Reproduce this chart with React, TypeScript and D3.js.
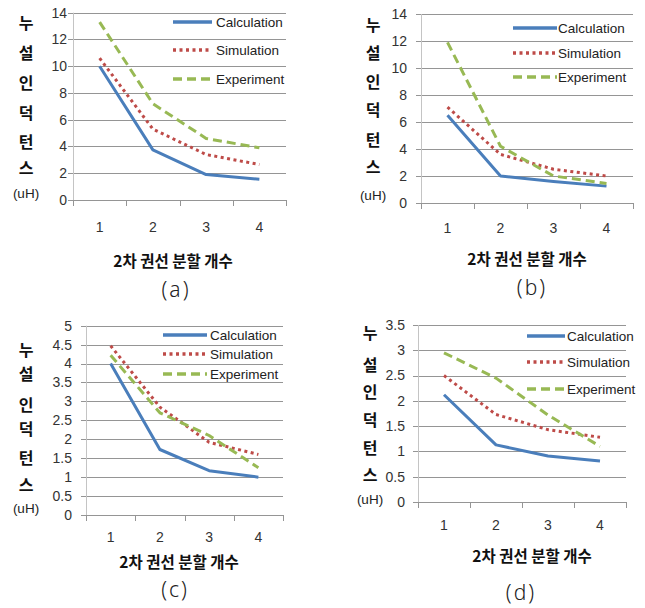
import React, { useEffect, useRef } from "react";
import * as d3 from "d3";

// 2차 권선 분할 개수
const categories = [1, 2, 3, 4];
const seriesNames = ["Calculation", "Simulation", "Experiment"];

// (a)
const aCalc = [10, 3.75, 1.9, 1.55];
const aSim = [10.6, 5.3, 3.4, 2.65];
const aExp = [13.3, 7.2, 4.6, 3.9];
const aTicks = [0, 2, 4, 6, 8, 10, 12, 14];

// (b)
const bCalc = [6.5, 2.0, 1.6, 1.25];
const bSim = [7.1, 3.6, 2.5, 2.0];
const bExp = [11.9, 4.2, 2.0, 1.45];
const bTicks = [0, 2, 4, 6, 8, 10, 12, 14];

// (c)
const cCalc = [4.0, 1.73, 1.17, 1.0];
const cSim = [4.47, 2.85, 1.92, 1.6];
const cExp = [4.22, 2.7, 2.1, 1.25];
const cTicks = [0, 0.5, 1, 1.5, 2, 2.5, 3, 3.5, 4, 4.5, 5];

// (d)
const dCalc = [2.12, 1.13, 0.91, 0.81];
const dSim = [2.5, 1.73, 1.43, 1.28];
const dExp = [2.95, 2.45, 1.72, 1.1];
const dTicks = [0, 0.5, 1, 1.5, 2, 2.5, 3, 3.5];

const yLabelChars = ["누", "설", "인", "덕", "턴", "스"];
const xLabel = "2차 권선 분할 개수";

const colors = ["#4a7ebb", "#be4b48", "#98b954"];
const dashes = [null, "3,3.5", "9,5"];

const panels = [
  {
    caption: "(a)", series: [aCalc, aSim, aExp], ticks: aTicks,
    left: 73, right: 286, top: 12.7, bottom: 200, catY: 227, tickX: 67,
    ylx: 26, charYs: [23, 53, 83, 113, 142, 168], uhY: 193,
    legX1: 173, legX2: 212, legText: 216, legYs: [22, 50, 79],
    xlx: 173, xly: 262, capX: 176, capY: 290,
  },
  {
    caption: "(b)", series: [bCalc, bSim, bExp], ticks: bTicks,
    left: 421, right: 633, top: 14, bottom: 203, catY: 228, tickX: 407,
    ylx: 373, charYs: [25, 53, 82, 110, 140, 167], uhY: 195,
    legX1: 513, legX2: 557, legText: 558, legYs: [28, 53, 77],
    xlx: 527, xly: 260, capX: 532, capY: 288,
  },
  {
    caption: "(c)", series: [cCalc, cSim, cExp], ticks: cTicks,
    left: 86, right: 283, top: 325.7, bottom: 515, catY: 537, tickX: 72,
    ylx: 26, charYs: [350, 374, 405, 429, 458, 485], uhY: 508,
    legX1: 163, legX2: 207, legText: 210, legYs: [335, 354, 374],
    xlx: 179, xly: 563, capX: 175, capY: 590,
  },
  {
    caption: "(d)", series: [dCalc, dSim, dExp], ticks: dTicks,
    left: 418, right: 626, top: 325, bottom: 502, catY: 525, tickX: 405,
    ylx: 370, charYs: [333, 365, 392, 420, 448, 475], uhY: 499,
    legX1: 527, legX2: 565, legText: 567, legYs: [336, 362, 389],
    xlx: 532, xly: 557, capX: 521, capY: 593,
  },
];

const latin = "'Liberation Sans', Arial, sans-serif";
const korean = "'Noto Sans CJK KR', sans-serif";

function drawPanel(svg, p) {
  const g = svg.append("g");
  const yMax = p.ticks[p.ticks.length - 1];
  const y = d3.scaleLinear().domain([0, yMax]).range([p.bottom, p.top]);
  const x = d3.scaleBand().domain(categories).range([p.left, p.right]).paddingInner(0).paddingOuter(0);

  // gridlines
  g.selectAll(".grid")
    .data(p.ticks)
    .join("line")
    .attr("x1", p.left - 5)
    .attr("x2", p.right)
    .attr("y1", (d) => Math.round(y(d)) + 0.5)
    .attr("y2", (d) => Math.round(y(d)) + 0.5)
    .attr("stroke", "#959595")
    .attr("stroke-width", 1);

  // y axis line
  g.append("line")
    .attr("x1", Math.round(p.left) + 0.5).attr("x2", Math.round(p.left) + 0.5)
    .attr("y1", p.top).attr("y2", p.bottom)
    .attr("stroke", "#c4c4c4");

  // x tick marks at category edges
  const edges = categories.map((c) => x(c)).concat([p.right]);
  g.selectAll(".xtick")
    .data(edges)
    .join("line")
    .attr("x1", (d) => Math.round(d) + 0.5)
    .attr("x2", (d) => Math.round(d) + 0.5)
    .attr("y1", p.bottom)
    .attr("y2", p.bottom + 6)
    .attr("stroke", "#959595");

  // y tick labels
  g.selectAll(".ylab")
    .data(p.ticks)
    .join("text")
    .attr("x", p.tickX)
    .attr("y", (d) => y(d))
    .attr("dy", "0.35em")
    .attr("text-anchor", "end")
    .attr("font-family", latin)
    .attr("font-size", 14)
    .attr("fill", "#333")
    .text((d) => d3.format("~g")(d));

  // x tick labels
  g.selectAll(".xlab")
    .data(categories)
    .join("text")
    .attr("x", (d) => x(d) + x.bandwidth() / 2)
    .attr("y", p.catY)
    .attr("dy", "0.35em")
    .attr("text-anchor", "middle")
    .attr("font-family", latin)
    .attr("font-size", 14)
    .attr("fill", "#333")
    .text((d) => d);

  // series lines
  const line = d3.line()
    .x((d, i) => x(categories[i]) + x.bandwidth() / 2)
    .y((d) => y(d));
  p.series.forEach((vals, i) => {
    g.append("path")
      .attr("d", line(vals))
      .attr("fill", "none")
      .attr("stroke", colors[i])
      .attr("stroke-width", 3)
      .attr("stroke-linejoin", "round")
      .attr("stroke-dasharray", dashes[i]);
  });

  // legend
  seriesNames.forEach((name, i) => {
    g.append("line")
      .attr("x1", p.legX1).attr("x2", p.legX2)
      .attr("y1", p.legYs[i]).attr("y2", p.legYs[i])
      .attr("stroke", colors[i])
      .attr("stroke-width", 3.5)
      .attr("stroke-dasharray", dashes[i]);
    g.append("text")
      .attr("x", p.legText)
      .attr("y", p.legYs[i])
      .attr("dy", "0.35em")
      .attr("font-family", latin)
      .attr("font-size", 13.5)
      .attr("fill", "#222")
      .text(name);
  });

  // vertical y label
  yLabelChars.forEach((ch, i) => {
    g.append("text")
      .attr("x", p.ylx)
      .attr("y", p.charYs[i])
      .attr("dy", "0.35em")
      .attr("text-anchor", "middle")
      .attr("font-family", korean)
      .attr("font-weight", "bold")
      .attr("font-size", 16)
      .attr("fill", "#111")
      .text(ch);
  });
  g.append("text")
    .attr("x", p.ylx)
    .attr("y", p.uhY)
    .attr("dy", "0.35em")
    .attr("text-anchor", "middle")
    .attr("font-family", latin)
    .attr("font-size", 13.5)
    .attr("fill", "#222")
    .text("(uH)");

  // x axis title
  g.append("text")
    .attr("x", p.xlx)
    .attr("y", p.xly)
    .attr("dy", "0.35em")
    .attr("text-anchor", "middle")
    .attr("font-family", korean)
    .attr("font-weight", "bold")
    .attr("font-size", 15.5)
    .attr("fill", "#111")
    .text(xLabel);

  // caption
  g.append("text")
    .attr("x", p.capX)
    .attr("y", p.capY)
    .attr("dy", "0.35em")
    .attr("text-anchor", "middle")
    .attr("font-family", "'Noto Sans', sans-serif")
    .attr("font-weight", 300)
    .attr("font-size", 21)
    .attr("letter-spacing", 2)
    .attr("fill", "#222")
    .text(p.caption);
}

export default function App() {
  const ref = useRef(null);

  useEffect(() => {
    const svg = d3.select(ref.current);
    svg.selectAll("*").remove();
    svg.append("rect").attr("width", 645).attr("height", 608).attr("fill", "#fff");
    panels.forEach((p) => drawPanel(svg, p));
  }, []);

  return (
    <svg
      ref={ref}
      width={645}
      height={608}
      style={{ position: "absolute", left: 0, top: 0, display: "block" }}
    />
  );
}
